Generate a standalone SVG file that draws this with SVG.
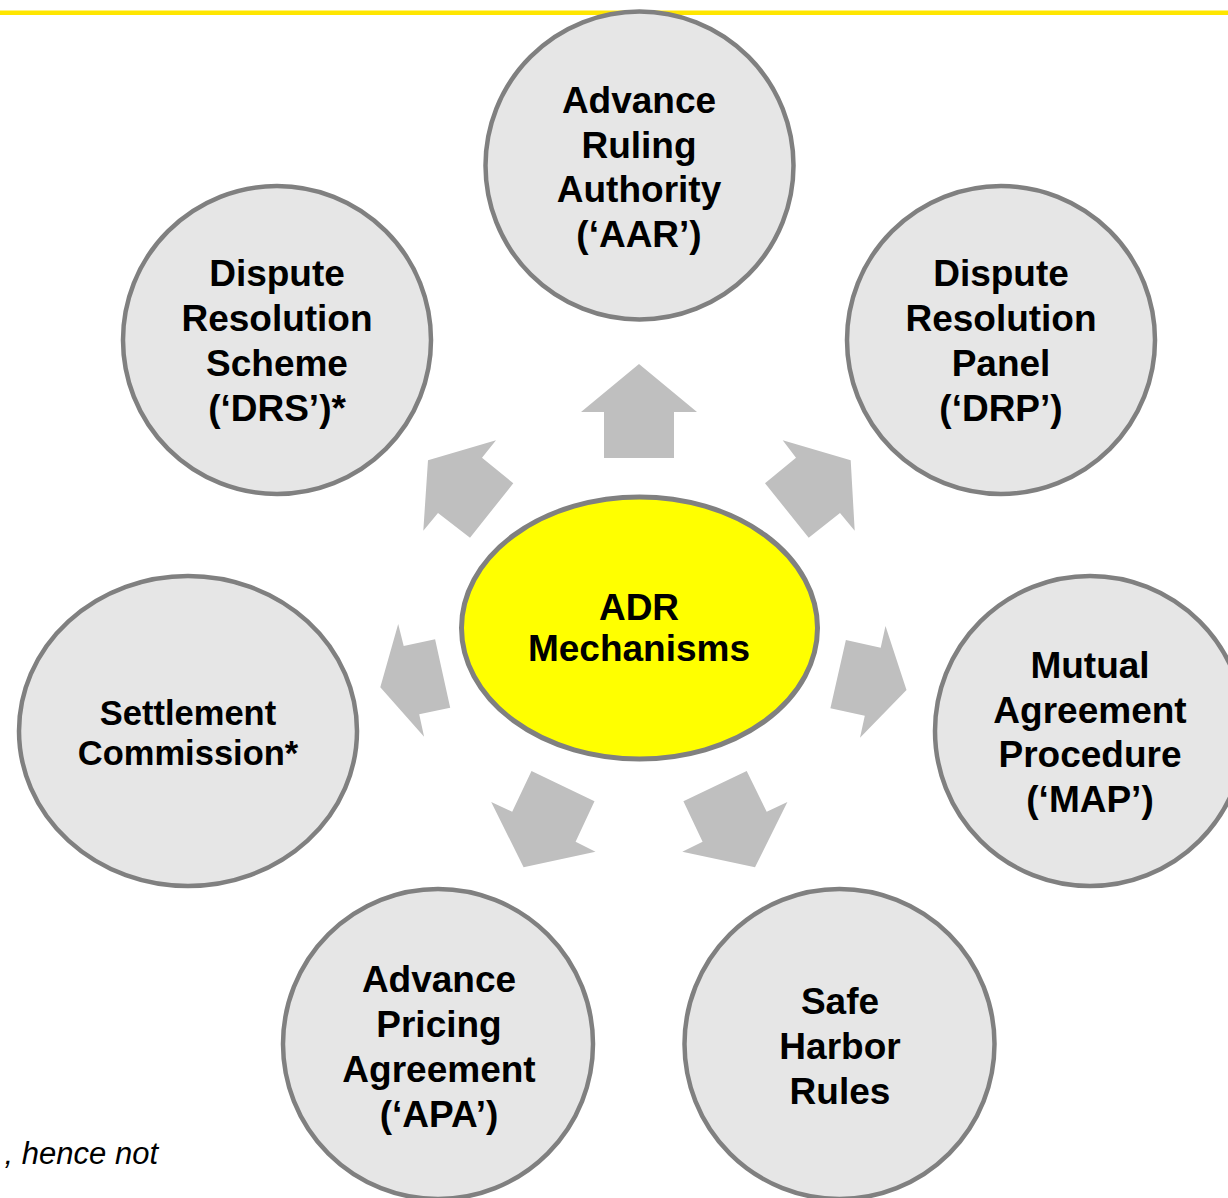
<svg xmlns="http://www.w3.org/2000/svg" width="1228" height="1198" viewBox="0 0 1228 1198">
<defs>
<style>
.node{fill:#E6E6E6;stroke:#808080;stroke-width:4.5}
.hub{fill:#FFFF00;stroke:#808080;stroke-width:5}
.lbl{font-family:"Liberation Sans",Arial,sans-serif;font-weight:bold;font-size:37px;fill:#000;text-anchor:middle}
.arrow{fill:#BFBFBF}
.note{font-family:"Liberation Sans",Arial,sans-serif;font-style:italic;font-size:31px;fill:#000;text-anchor:end}
</style>
</defs>
<rect x="0" y="0" width="1228" height="1198" fill="#FFFFFF"/>
<line x1="0" y1="12.7" x2="1228" y2="12.7" stroke="#FFE600" stroke-width="4.5"/>
<text class="note" x="158" y="1164">, hence not</text>

<g id="connectors">
<polygon class="arrow" points="639,364 697,412 674,412 674,458 604,458 604,412 581,412"/>
<polygon class="arrow" points="428,460.3 496,440.3 482,457.7 513.3,483.3 470,537.7 438,513 423.3,530.7"/>
<polygon class="arrow" points="850.7,460.3 782.7,440.3 796,457.7 765,483.3 808.7,537.7 840,513 854.7,530.7"/>
<polygon class="arrow" points="380.3,687.3 398.2,624 403.7,646 435.1,639.3 450.2,707.7 419.2,714.3 424.1,736.7"/>
<polygon class="arrow" points="906.5,690 885.5,626 880.7,647.7 845.9,640 830.4,708.3 864.8,715.7 860,737.7"/>
<polygon class="arrow" points="523.6,867.3 595.5,851.7 575.6,841.7 594.5,801.3 531.5,771 512.2,811.7 491.2,802"/>
<polygon class="arrow" points="755,867.3 682.3,851.7 702.6,841.7 683.4,801.3 746.7,771 766.7,811.7 787.4,802"/>
</g>

<g id="node-aar">
<circle class="node" cx="639.5" cy="165.5" r="154"/>
<text class="lbl" x="639" y="113">Advance</text>
<text class="lbl" x="639" y="158">Ruling</text>
<text class="lbl" x="639" y="202">Authority</text>
<text class="lbl" x="639" y="247">(‘AAR’)</text>
</g>

<g id="node-drs">
<circle class="node" cx="277" cy="340" r="154"/>
<text class="lbl" x="277" y="286">Dispute</text>
<text class="lbl" x="277" y="331">Resolution</text>
<text class="lbl" x="277" y="376">Scheme</text>
<text class="lbl" x="277" y="421">(‘DRS’)*</text>
</g>

<g id="node-drp">
<circle class="node" cx="1001" cy="340" r="154"/>
<text class="lbl" x="1001" y="286">Dispute</text>
<text class="lbl" x="1001" y="331">Resolution</text>
<text class="lbl" x="1001" y="376">Panel</text>
<text class="lbl" x="1001" y="421">(‘DRP’)</text>
</g>

<g id="node-settlement">
<ellipse class="node" cx="188" cy="731" rx="169" ry="155"/>
<text class="lbl" x="188" y="725" style="font-size:34.5px">Settlement</text>
<text class="lbl" x="188" y="765" style="font-size:34.5px">Commission*</text>
</g>

<g id="node-map">
<circle class="node" cx="1090" cy="731" r="155"/>
<text class="lbl" x="1090" y="678">Mutual</text>
<text class="lbl" x="1090" y="723">Agreement</text>
<text class="lbl" x="1090" y="767">Procedure</text>
<text class="lbl" x="1090" y="812">(‘MAP’)</text>
</g>

<g id="node-apa">
<circle class="node" cx="438" cy="1044" r="155"/>
<text class="lbl" x="439" y="992">Advance</text>
<text class="lbl" x="439" y="1037">Pricing</text>
<text class="lbl" x="439" y="1082">Agreement</text>
<text class="lbl" x="439" y="1127">(‘APA’)</text>
</g>

<g id="node-safe-harbor">
<circle class="node" cx="839.5" cy="1044" r="155"/>
<text class="lbl" x="840" y="1014">Safe</text>
<text class="lbl" x="840" y="1059">Harbor</text>
<text class="lbl" x="840" y="1104">Rules</text>
</g>

<g id="node-adr">
<ellipse class="hub" cx="639.5" cy="628" rx="178" ry="131"/>
<text class="lbl" x="639" y="620">ADR</text>
<text class="lbl" x="639" y="661">Mechanisms</text>
</g>
</svg>
